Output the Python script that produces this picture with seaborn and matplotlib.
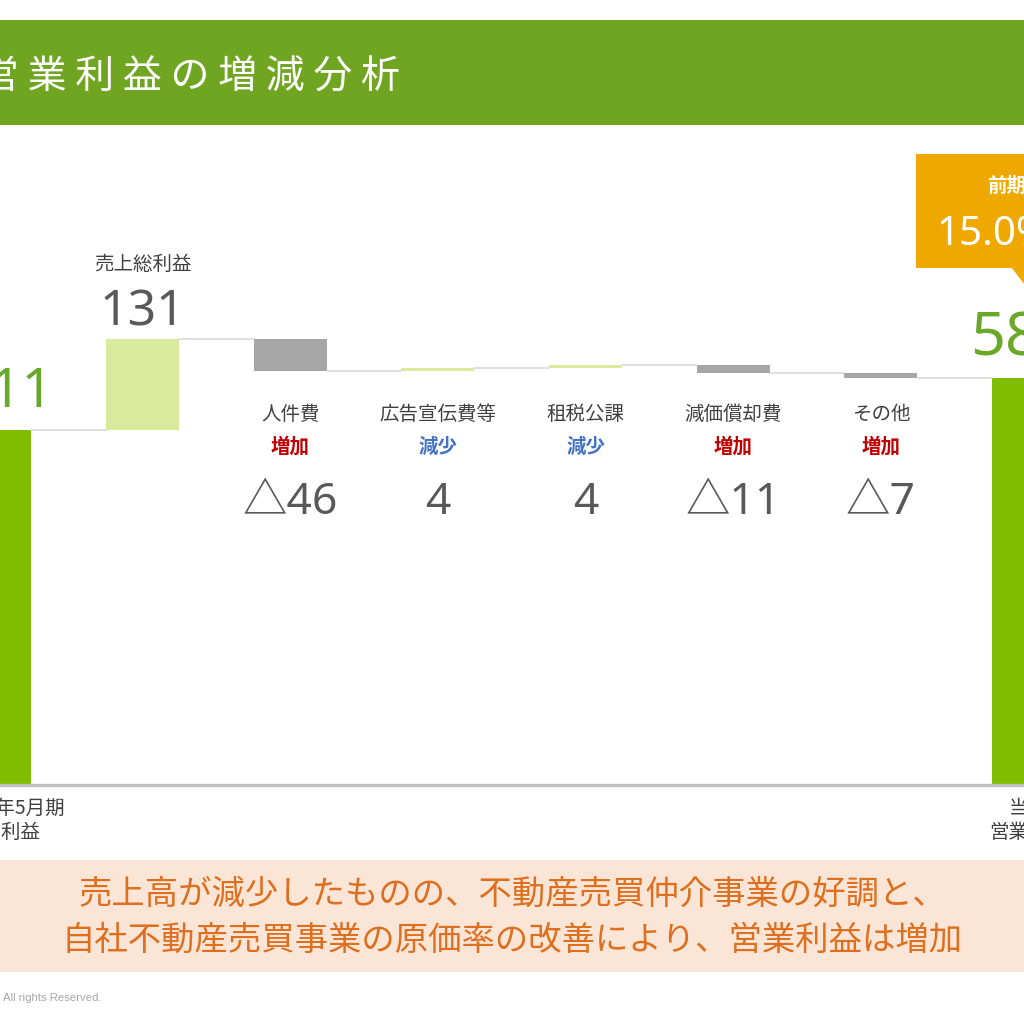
import numpy as np
import pandas as pd
import matplotlib
matplotlib.use("Agg")
import matplotlib.pyplot as plt
import seaborn as sns
from matplotlib.transforms import blended_transform_factory
from matplotlib.patches import Rectangle, Polygon

# ---------------- data ----------------
categories = ["前期営業利益", "売上総利益", "人件費", "広告宣伝費等", "租税公課", "減価償却費", "その他", "当期営業利益"]
start_value = 511
deltas = [131, -46, 4, 4, -11, -7]
end_value = 586
item_labels = ["人件費", "広告宣伝費等", "租税公課", "減価償却費", "その他"]
item_dirs = ["増加", "減少", "減少", "増加", "増加"]
item_values = ["△46", "4", "4", "△11", "△7"]
gross_label = "売上総利益"
gross_value = "131"
start_label = ["2023年5月期", "営業利益"]
end_label = ["当期", "営業利益"]
title = "営 業 利 益 の 増 減 分 析"
callout_title = "前期比"
callout_value = "15.0%"
summary = ["売上高が減少したものの、不動産売買仲介事業の好調と、",
           "自社不動産売買事業の原価率の改善により、営業利益は増加"]
footer = "All rights Reserved."

# ---------------- derived waterfall table ----------------
running = np.cumsum([start_value] + deltas)
bottoms = [0] + [min(running[i], running[i + 1]) for i in range(len(deltas))] + [0]
heights = [start_value] + [abs(d) for d in deltas] + [end_value]
df = pd.DataFrame({"cat": categories, "height": heights, "bottom": bottoms})

GREEN = "#80BC00"
LIGHT = "#D9EA9C"
GRAY = "#A6A6A6"
colors = [GREEN] + [LIGHT if d > 0 else GRAY for d in deltas] + [GREEN]

sns.set_style("white")
plt.rcParams["font.family"] = ["Noto Sans CJK JP", "DejaVu Sans"]
NUMF = ["Noto Sans", "Noto Sans CJK JP", "DejaVu Sans"]

W = H = 1024
fig = plt.figure(figsize=(10.24, 10.24), dpi=100)

def fy(px):
    return 1 - px / H

def fx(px):
    return px / W

# axes spanning full width; baseline at y=785px, top at 140px
ax = fig.add_axes([0, fy(785), 1, (785 - 140) / H])
BW = 0.494
sns.barplot(data=df, x="cat", y="height", bottom=df["bottom"], order=categories,
            width=BW, errorbar=None, color=GRAY, ax=ax, saturation=1)
for p, c in zip(ax.patches, colors):
    p.set_facecolor(c)
    p.set_edgecolor("none")

ax.set_xlim(0.035, 6.969)
ax.set_ylim(0, 645 / 0.6947)
ax.set_xlabel("")
ax.set_ylabel("")
ax.set_xticks([])
ax.set_yticks([])
for s in ax.spines.values():
    s.set_visible(False)

# connectors
levels = list(running)
for i in range(len(categories) - 1):
    ax.plot([i + BW / 2, i + 1 - BW / 2], [levels[i], levels[i]], color="#D9D9D9", lw=1.2, zorder=1)

ax.axhline(0, color="#BFBFBF", lw=2.4, zorder=3, clip_on=False)

tr = blended_transform_factory(ax.transData, fig.transFigure)

# header band
fig.patches.append(Rectangle((0, fy(125)), 1, (125 - 20) / H, transform=fig.transFigure,
                             facecolor="#6FA521", edgecolor="none", zorder=0))
fig.text(fx(-20), fy(78), title, color="white", fontsize=28, va="center", ha="left")

# gross profit
ax.text(1, fy(264), gross_label, transform=tr, ha="center", va="center", fontsize=14, color="#404040")
ax.text(1, fy(313), gross_value, transform=tr, ha="center", va="center", fontsize=36,
        color="#595959", family=NUMF)

# start / end values
ax.text(0.075, fy(392), str(start_value), transform=tr, ha="center", va="center", fontsize=40,
        color="#6AA82A", family=NUMF)
ax.text(6.96, fy(340), str(end_value), transform=tr, ha="center", va="center", fontsize=44,
        color="#6AA82A", family=NUMF)

# item labels
for k, (lab, d, v) in enumerate(zip(item_labels, item_dirs, item_values)):
    x = k + 2
    ax.text(x, fy(414), lab, transform=tr, ha="center", va="center", fontsize=14, color="#404040")
    ax.text(x, fy(447), d, transform=tr, ha="center", va="center", fontsize=14, fontweight="bold",
            color="#C00000" if d == "増加" else "#4472C4")
    ax.text(x, fy(503), v, transform=tr, ha="center", va="center", fontsize=32,
            color="#595959", family=NUMF)

# bottom labels
ax.text(0.09, fy(808), start_label[0], transform=tr, ha="center", va="center", fontsize=14,
        color="#404040")
ax.text(0.04, fy(832), start_label[1], transform=tr, ha="center", va="center", fontsize=14,
        color="#404040")
ax.text(7, fy(808), end_label[0], transform=tr, ha="center", va="center", fontsize=14,
        color="#404040")
ax.text(7, fy(832), end_label[1], transform=tr, ha="center", va="center", fontsize=14,
        color="#404040")

# callout
ORANGE = "#EFA800"
fig.patches.append(Rectangle((fx(916), fy(268)), fx(1100 - 916), (268 - 154) / H,
                             transform=fig.transFigure, facecolor=ORANGE, edgecolor="none", zorder=5))
fig.patches.append(Polygon([(fx(1011), fy(267)), (fx(1045), fy(267)), (fx(1025), fy(285))],
                           closed=True, transform=fig.transFigure, facecolor=ORANGE, edgecolor="none", zorder=5))
fig.text(fx(987), fy(186), callout_title, color="white", fontsize=14, fontweight="bold",
         ha="left", va="center", zorder=6)
fig.text(fx(936), fy(235), callout_value, color="white", fontsize=29, ha="left", va="center",
         zorder=6, family=NUMF)

# summary banner
fig.patches.append(Rectangle((0, fy(972)), 1, (972 - 860) / H, transform=fig.transFigure,
                             facecolor="#FBE5D6", edgecolor="none", zorder=0))
fig.text(0.5, fy(894), summary[0], color="#DD6F1E", fontsize=24, ha="center", va="center")
fig.text(0.5, fy(940), summary[1], color="#DD6F1E", fontsize=24, ha="center", va="center")

fig.text(fx(3), fy(998), footer, color="#A6A6A6", fontsize=8.2, ha="left", va="center",
         family=["Liberation Sans", "DejaVu Sans"])

fig.savefig("out.png", dpi=100, facecolor="white")
